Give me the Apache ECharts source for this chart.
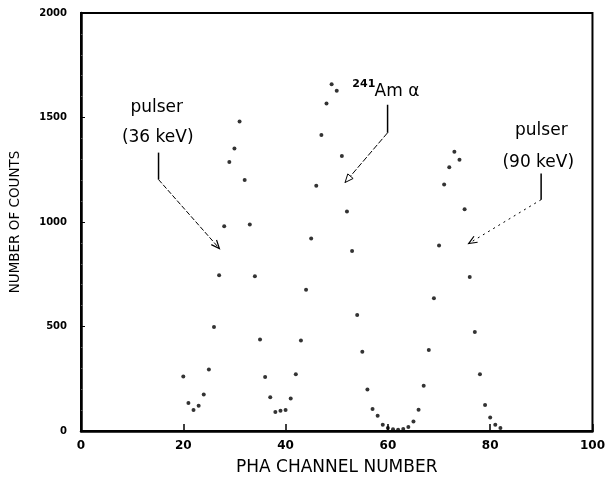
<!DOCTYPE html>
<html>
<head>
<meta charset="utf-8">
<script src="https://cdn.jsdelivr.net/npm/echarts@6/dist/echarts.min.js"></script>
<style>html,body{margin:0;padding:0;background:#fff}#c{width:608px;height:481px}</style>
</head>
<body>
<div id="c"></div>
<script>
// ---- data ----
const pulser36Channels = [20,21,22,23,24,25,26,27,28,29,30,31,32,33,34,35,36,37,38,39];
const pulser36Counts   = [261,134,100,121,175,294,498,745,980,1287,1352,1481,1201,988,740,438,258,162,91,97];
const amChannels = [40,41,42,43,44,45,46,47,48,49,50,51,52,53,54,55,56,57,58,59,60,61,62];
const amCounts   = [100,156,271,433,676,921,1173,1416,1567,1659,1628,1316,1050,861,555,379,199,105,73,30,14,8,6];
const pulser90Channels = [63,64,65,66,67,68,69,70,71,72,73,74,75,76,77,78,79,80,81,82];
const pulser90Counts   = [9,19,45,102,216,388,635,888,1179,1262,1336,1298,1061,737,474,272,124,64,30,14];
const xTickLabels = ['0','20','40','60','80','100'];
const yTickLabels = ['0','500','1000','1500','2000'];

function pairs(xs, ys){ return xs.map((x,i)=>[x, ys[i]]); }

const FONT = 'DejaVu Sans';
const chart = echarts.init(document.getElementById('c'), null, {renderer:'canvas'});
const dotStyle = {color:'#000'};
const mkSeries = (name, data) => ({
  name, type:'scatter', data, symbol:'circle', symbolSize:4,
  itemStyle: dotStyle, silent:true, animation:false
});

chart.setOption({
  animation:false,
  backgroundColor:'#fff',
  grid:{left:77, right:10, top:13, bottom:49, show:true, borderColor:'#000', borderWidth:2, backgroundColor:'transparent'},
  xAxis:{
    type:'value', min:0, max:100, interval:20,
    name:'PHA CHANNEL NUMBER', nameLocation:'middle', nameGap:28,
    nameTextStyle:{fontFamily:FONT, fontSize:17, color:'#000'},
    axisLine:{show:true, onZero:false, lineStyle:{color:'#000', width:2.5}},
    axisTick:{show:true, inside:true, length:7, lineStyle:{color:'#000', width:1.5}},
    axisLabel:{fontFamily:FONT, fontSize:12, fontWeight:'bold', color:'#000', margin:9,
      formatter:(v)=>xTickLabels[Math.round(v/20)] ?? ''},
    splitLine:{show:false}
  },
  yAxis:{
    type:'value', min:0, max:2000, interval:500,
    name:'NUMBER OF COUNTS', nameLocation:'middle', nameGap:59,
    nameTextStyle:{fontFamily:FONT, fontSize:13.5, color:'#000'},
    axisLine:{show:true, onZero:false, lineStyle:{color:'#000', width:2.5}},
    axisTick:{show:true, inside:true, length:4, lineStyle:{color:'#000', width:1}},
    minorTick:{show:true, splitNumber:5, length:2, lineStyle:{color:'#555'}},
    axisLabel:{fontFamily:FONT, fontSize:10, fontWeight:'bold', color:'#000', margin:14,
      formatter:(v)=>yTickLabels[Math.round(v/500)] ?? ''},
    splitLine:{show:false}
  },
  series:[
    mkSeries('pulser 36 keV', pairs(pulser36Channels, pulser36Counts)),
    mkSeries('241Am alpha', pairs(amChannels, amCounts)),
    mkSeries('pulser 90 keV', pairs(pulser90Channels, pulser90Counts))
  ]
});

// ---- annotations (anchored in data coordinates) ----
const P = (x,y)=>chart.convertToPixel({gridIndex:0},[x,y]);
function leader(pts, dash){
  const px = pts.map(p=>P(p[0],p[1]));
  return {px, el:[
    {type:'polyline', shape:{points:[px[0],px[1]]}, style:{stroke:'#000', lineWidth:1.5, fill:null}, silent:true},
    {type:'polyline', shape:{points:[px[1],px[2]]}, style:{stroke:'#000', lineWidth:1, fill:null, lineDash:dash}, silent:true}
  ]};
}
function arrowHead(from, tip, closed){
  const dx = tip[0]-from[0], dy = tip[1]-from[1];
  const L = Math.hypot(dx,dy), ux = dx/L, uy = dy/L;
  const len = 9, a = 0.4;
  const c = Math.cos(a), s = Math.sin(a);
  const l1 = [tip[0] - len*(ux*c - uy*s), tip[1] - len*(uy*c + ux*s)];
  const l2 = [tip[0] - len*(ux*c + uy*s), tip[1] - len*(uy*c - ux*s)];
  if (closed) return {type:'polygon', shape:{points:[l1,tip,l2]}, style:{stroke:'#000', lineWidth:1, fill:'#fff'}, silent:true};
  return {type:'polyline', shape:{points:[l1,tip,l2]}, style:{stroke:'#000', lineWidth:1.2, fill:null}, silent:true};
}
function txt(x,y,text,size,align,weight){
  const p = P(x,y);
  return {type:'text', x:p[0], y:p[1], style:{text, fontFamily:FONT, fontSize:size, fontWeight:weight||'normal',
    fill:'#000', align:align||'center', verticalAlign:'middle'}, silent:true};
}

const g = [];
// pulser 36 keV
const L1 = leader([[15.16,1332],[15.16,1203],[27.06,873]], [5,2]);
g.push(...L1.el, arrowHead(L1.px[1], L1.px[2], false));
g.push(txt(14.8,1547,'pulser',17), txt(15.0,1403,'(36 keV)',17));
// 241Am alpha
const L2 = leader([[59.94,1561],[59.94,1427],[51.63,1189]], [6,2]);
g.push(...L2.el, arrowHead(L2.px[1], L2.px[2], true));
g.push(txt(55.3,1661,'241',11,'center','bold'), txt(57.4,1623,'Am \u03b1',17,'left'));
// pulser 90 keV
const L3 = leader([[89.96,1232],[89.96,1107],[75.8,897]], [2,4]);
g.push(...L3.el, arrowHead(L3.px[1], L3.px[2], false));
g.push(txt(90.0,1437,'pulser',17), txt(89.4,1284,'(90 keV)',17));

chart.setOption({graphic:{elements:g}});
</script>
</body>
</html>
